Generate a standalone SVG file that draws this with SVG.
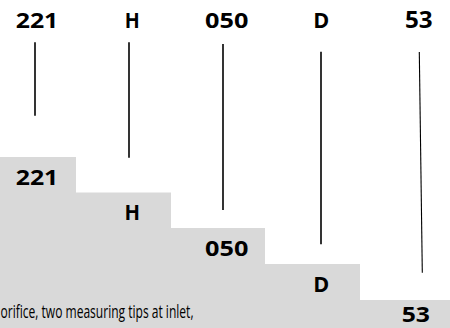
<svg xmlns="http://www.w3.org/2000/svg" width="450" height="328" viewBox="0 0 450 328">
<style>
.code{font-family:"Open Sans","Liberation Sans",sans-serif;font-weight:bold;font-size:21px;fill:#000;text-anchor:middle}
.big{font-size:23px}
.desc{font-family:"Open Sans","Liberation Sans",sans-serif;font-size:19px;fill:#000}
.step{fill:#d9d9d9}
.lead{stroke:#000;stroke-width:1.6;fill:none}
</style>
<rect width="450" height="328" fill="#fff"/>
<g id="steps">
<polygon class="step" points="0,157 76,157 76,192.5 171,192.5 171,228 265,228 265,264 360,264 360,300 450,300 450,328 0,328"/>
</g>
<g id="node-221">
<text class="code" x="37" y="28.3" textLength="42.6" lengthAdjust="spacingAndGlyphs">221</text>
<text class="code" x="37" y="185" textLength="42.6" lengthAdjust="spacingAndGlyphs">221</text>
</g>
<g id="node-H">
<text class="code" x="132.2" y="28.3" textLength="15" lengthAdjust="spacingAndGlyphs">H</text>
<text class="code" x="132.2" y="220" textLength="15.5" lengthAdjust="spacingAndGlyphs">H</text>
</g>
<g id="node-050">
<text class="code" x="226.7" y="28.3" textLength="43.3" lengthAdjust="spacingAndGlyphs">050</text>
<text class="code" x="226.7" y="255.7" textLength="43.3" lengthAdjust="spacingAndGlyphs">050</text>
</g>
<g id="node-D">
<text class="code" x="321.3" y="28.3" textLength="16" lengthAdjust="spacingAndGlyphs">D</text>
<text class="code" x="321.3" y="291.7" textLength="16" lengthAdjust="spacingAndGlyphs">D</text>
</g>
<g id="node-53">
<text class="code big" x="418.8" y="28.3" textLength="27.7" lengthAdjust="spacingAndGlyphs">53</text>
<text class="code" x="415.8" y="322" textLength="28.3" lengthAdjust="spacingAndGlyphs" style="font-size:22px">53</text>
</g>
<g id="desc">
<text class="desc" x="0.5" y="318" textLength="193" lengthAdjust="spacingAndGlyphs">orifice, two measuring tips at inlet,</text>
</g>
<g id="connectors">
<line class="lead" x1="35" y1="42.3" x2="35" y2="115.7"/>
<line class="lead" x1="129" y1="42.3" x2="129" y2="157.7"/>
<line class="lead" x1="223" y1="44" x2="223" y2="210"/>
<line class="lead" x1="321" y1="51.7" x2="321" y2="244.3"/>
<line class="lead" x1="419.3" y1="52" x2="422.3" y2="272.7" style="stroke-width:1.1"/>
</g>
</svg>
